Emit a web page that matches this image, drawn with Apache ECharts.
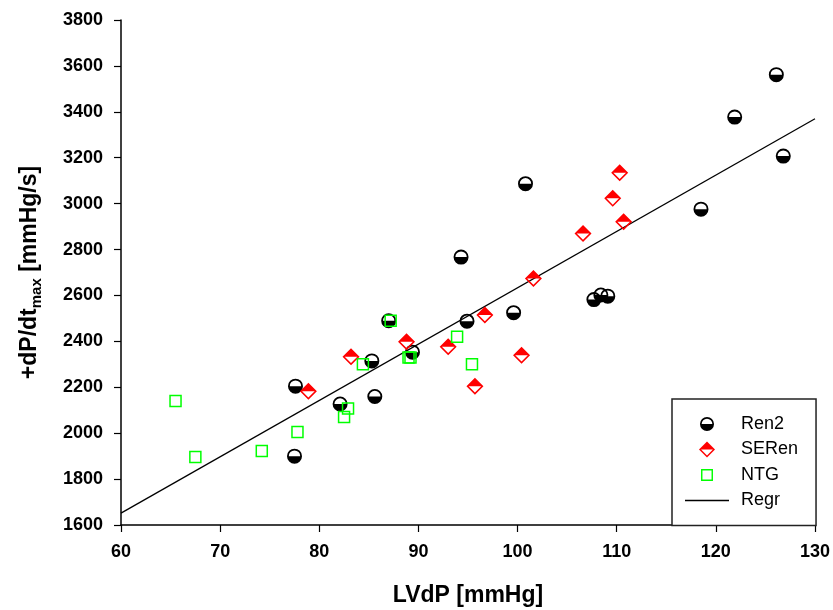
<!DOCTYPE html>
<html>
<head>
<meta charset="utf-8">
<title>LVdP vs +dP/dt max</title>
<script src="https://cdn.jsdelivr.net/npm/echarts@6/dist/echarts.min.js"></script>
<style>
  html, body { margin: 0; padding: 0; background: #fff; }
  #chart { width: 833px; height: 610px; }
</style>
</head>
<body>
<div id="chart"></div>
<script>
// LVdP [mmHg] (x) and +dP/dt max [mmHg/s] (y) for each group
const ren2X  = [77.6, 77.5, 82.1, 85.3, 85.6, 87.0, 89.4, 94.3, 94.9, 99.6, 100.8, 107.7, 108.4, 109.1, 118.5, 121.9, 126.1, 126.8];
const ren2Y  = [2205, 1900, 2127, 2315, 2160, 2490, 2353, 2767, 2488, 2525, 3087, 2582, 2602, 2597, 2976, 3377, 3562, 3207];
const serenX = [78.9, 83.2, 88.8, 93.0, 95.7, 96.7, 100.4, 101.6, 106.6, 109.6, 110.3, 110.7];
const serenY = [2183, 2333, 2398, 2377, 2205, 2515, 2340, 2674, 2870, 3023, 3135, 2921];
const ntgX   = [65.5, 67.5, 74.2, 77.8, 82.5, 82.9, 84.4, 87.2, 89.0, 89.2, 93.9, 95.4];
const ntgY   = [2140, 1896, 1922, 2005, 2070, 2108, 2300, 2490, 2330, 2330, 2420, 2300];
// Regression line end points
const regrX  = [60, 130];
const regrY  = [1652, 3370];

const seriesNames = ['Ren2', 'SERen', 'NTG', 'Regr'];
const xTicks = { min: 60, max: 130, step: 10 };
const yTicks = { min: 1600, max: 3800, step: 200 };

const zip = (xs, ys) => xs.map((x, i) => [x, ys[i]]);

// Marker outlines: outer shape with an inner hole of opposite winding
const HALF_CIRCLE_PATH = 'M0,50A50,50,0,1,1,100,50A50,50,0,1,1,0,50ZM12,50L88,50A38,38,0,0,0,12,50Z';
const HALF_DIAMOND_PATH = 'M50,0L100,50L50,100L0,50ZM13,50L50,87L87,50Z';
const OPEN_SQUARE_PATH = 'M0,0L100,0L100,100L0,100ZM12,12L12,88L88,88L88,12Z';

// Legend icons: extra move-to points widen the bounds so each icon keeps its own size
const LEGEND_CIRCLE = 'path://M-7,-7M107,107' + HALF_CIRCLE_PATH;
const LEGEND_DIAMOND = 'path://' + HALF_DIAMOND_PATH;
const LEGEND_SQUARE = 'path://M-17,-17M117,117' + OPEN_SQUARE_PATH;
const LEGEND_LINE = 'path://M0,0L100,0L100,3.4L0,3.4Z';

const FONT = '"Liberation Sans", Arial, Helvetica, sans-serif';

const chart = echarts.init(document.getElementById('chart'), null, { renderer: 'canvas' });

chart.setOption({
  animation: false,
  backgroundColor: '#ffffff',
  grid: { left: 121, right: 18, top: 20, bottom: 85, containLabel: false, outerBoundsMode: 'none' },
  xAxis: {
    type: 'value',
    min: xTicks.min, max: xTicks.max, interval: xTicks.step,
    name: 'LVdP [mmHg]',
    nameLocation: 'middle',
    nameGap: 59,
    nameTextStyle: { fontFamily: FONT, fontSize: 23, fontWeight: 'bold', color: '#000' },
    axisLine: { onZero: false, lineStyle: { color: '#000', width: 1.5 } },
    axisTick: { inside: false, length: 7, lineStyle: { color: '#000', width: 1.2 } },
    axisLabel: { margin: 18, fontFamily: FONT, fontSize: 18, fontWeight: 'bold', color: '#000',
                 formatter: v => String(v) },
    splitLine: { show: false }
  },
  yAxis: {
    type: 'value',
    min: yTicks.min, max: yTicks.max, interval: yTicks.step,
    name: '{a|+dP/dt}{b|max}{a| [mmHg/s]}',
    nameLocation: 'middle',
    nameGap: 77,
    nameTextStyle: {
      fontFamily: FONT, fontSize: 23, fontWeight: 'bold', color: '#000',
      rich: {
        a: { fontFamily: FONT, fontSize: 23, fontWeight: 'bold', color: '#000', lineHeight: 26, verticalAlign: 'top' },
        b: { fontFamily: FONT, fontSize: 15, fontWeight: 'bold', color: '#000', lineHeight: 15, verticalAlign: 'bottom' }
      }
    },
    axisLine: { onZero: false, lineStyle: { color: '#000', width: 1.5 } },
    axisTick: { inside: false, length: 7, lineStyle: { color: '#000', width: 1.2 } },
    axisLabel: { margin: 18, fontFamily: FONT, fontSize: 18, fontWeight: 'bold', color: '#000',
                 formatter: v => String(v) },
    splitLine: { show: false }
  },
  legend: {
    data: [
      { name: seriesNames[0], icon: LEGEND_CIRCLE },
      { name: seriesNames[1], icon: LEGEND_DIAMOND },
      { name: seriesNames[2], icon: LEGEND_SQUARE },
      { name: seriesNames[3], icon: LEGEND_LINE }
    ],
    orient: 'vertical',
    left: 672,
    top: 399,
    padding: [15, 18, 15, 13],
    itemWidth: 44,
    itemHeight: 16,
    itemGap: 5.5,
    selectedMode: false,
    borderColor: '#222',
    borderWidth: 1.5,
    backgroundColor: '#fff',
    textStyle: { fontFamily: FONT, fontSize: 18, color: '#000', lineHeight: 20, padding: [0, 0, 0, 7] }
  },
  series: [
    {
      name: 'Regr',
      type: 'line',
      data: zip(regrX, regrY),
      symbol: 'none',
      lineStyle: { color: '#000', width: 1.3 },
      itemStyle: { color: '#000' },
      z: 1
    },
    {
      name: 'Ren2',
      type: 'scatter',
      data: zip(ren2X, ren2Y),
      symbol: 'path://' + HALF_CIRCLE_PATH,
      symbolSize: 15,
      symbolKeepAspect: true,
      itemStyle: { color: '#000', borderWidth: 0, opacity: 1 },
      z: 2
    },
    {
      name: 'SERen',
      type: 'scatter',
      data: zip(serenX, serenY),
      symbol: 'path://' + HALF_DIAMOND_PATH,
      symbolSize: 17,
      symbolKeepAspect: true,
      itemStyle: { color: '#ff0000', borderWidth: 0, opacity: 1 },
      z: 3
    },
    {
      name: 'NTG',
      type: 'scatter',
      data: zip(ntgX, ntgY),
      symbol: 'path://' + OPEN_SQUARE_PATH,
      symbolSize: 12.5,
      symbolKeepAspect: true,
      itemStyle: { color: '#00ff00', borderWidth: 0, opacity: 1 },
      z: 4
    }
  ]
});
</script>
</body>
</html>
